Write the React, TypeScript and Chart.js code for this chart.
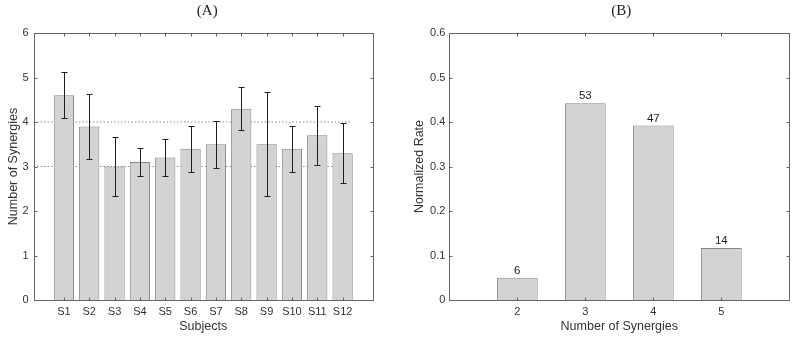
import React, { useEffect, useRef } from 'react';
import { Chart, registerables } from 'chart.js';

Chart.register(...registerables);

// ---------- data ----------
const subjects = ['S1', 'S2', 'S3', 'S4', 'S5', 'S6', 'S7', 'S8', 'S9', 'S10', 'S11', 'S12'];
const meanSynergies = [4.6, 3.9, 3.0, 3.1, 3.2, 3.4, 3.5, 4.3, 3.5, 3.4, 3.7, 3.3];
const stdSynergies = [0.52, 0.74, 0.66, 0.31, 0.42, 0.52, 0.53, 0.48, 1.17, 0.52, 0.67, 0.67];
const referenceLevels = [3, 4];
const referenceSpan = [-0.2, 12.35];
const subjectAxisLimits = [-0.2, 13.2];
const synergyAxisA = [0, 6];

const synergyCounts = [2, 3, 4, 5];
const normalizedRate = [0.05, 0.442, 0.392, 0.117];
const occurrences = [6, 53, 47, 14];
const countAxisLimits = [1, 6];
const rateAxisB = [0, 0.6];

// ---------- styles ----------
const FONT = '"Liberation Sans", Arial, Helvetica, sans-serif';
const SERIF = '"Liberation Serif", "Times New Roman", serif';
const TEXT = '#333333';
const AXIS = '#666666';
const BAR_FILL = '#d3d3d3';
const BAR_EDGE = '#858585';

const crisp = (v: number) => Math.round(v) + 0.5;

const boxPlugin = {
  id: 'boxTicks',
  afterDraw(chart: any, _args: any, opts: any) {
    const { ctx, chartArea: a, scales } = chart;
    ctx.save();
    ctx.strokeStyle = AXIS;
    ctx.lineWidth = 1;
    const L = crisp(a.left), R = crisp(a.right), T = crisp(a.top), B = crisp(a.bottom);
    ctx.strokeRect(L, T, R - L, B - T);
    const len = 3;
    ctx.beginPath();
    scales.x.ticks.forEach((t: any) => {
      const px = crisp(scales.x.getPixelForValue(t.value));
      ctx.moveTo(px, B); ctx.lineTo(px, B - len);
      ctx.moveTo(px, T); ctx.lineTo(px, T + len);
    });
    scales.y.ticks.forEach((t: any) => {
      const py = crisp(scales.y.getPixelForValue(t.value));
      ctx.moveTo(L, py); ctx.lineTo(L + len, py);
      ctx.moveTo(R, py); ctx.lineTo(R - len, py);
    });
    ctx.stroke();
    if (opts && opts.text) {
      ctx.fillStyle = '#222222';
      ctx.font = '15px ' + SERIF;
      ctx.textAlign = 'center';
      ctx.textBaseline = 'middle';
      ctx.fillText(opts.text, (a.left + a.right) / 2 + (opts.dx || 0), opts.y);
    }
    ctx.restore();
  },
};

const errorBarPlugin = {
  id: 'errorBars',
  afterDatasetsDraw(chart: any) {
    const { ctx, scales } = chart;
    const meta = chart.getDatasetMeta(0);
    ctx.save();
    ctx.strokeStyle = '#1e1e1e';
    ctx.lineWidth = 1;
    ctx.beginPath();
    meta.data.forEach((el: any, i: number) => {
      const px = crisp(el.x);
      const top = crisp(scales.y.getPixelForValue(meanSynergies[i] + stdSynergies[i]));
      const bot = crisp(scales.y.getPixelForValue(meanSynergies[i] - stdSynergies[i]));
      ctx.moveTo(px, top); ctx.lineTo(px, bot);
      ctx.moveTo(px - 3, top); ctx.lineTo(px + 3, top);
      ctx.moveTo(px - 3, bot); ctx.lineTo(px + 3, bot);
    });
    ctx.stroke();
    ctx.restore();
  },
};

const barLabelPlugin = {
  id: 'barLabels',
  afterDatasetsDraw(chart: any) {
    const { ctx } = chart;
    const meta = chart.getDatasetMeta(0);
    ctx.save();
    ctx.fillStyle = '#222222';
    ctx.font = '11.5px ' + FONT;
    ctx.textAlign = 'center';
    ctx.textBaseline = 'alphabetic';
    meta.data.forEach((el: any, i: number) => {
      ctx.fillText(String(occurrences[i]), el.x, el.y - 4);
    });
    ctx.restore();
  },
};

const tickFont = { family: FONT, size: 11 };
const titleFont = { family: FONT, size: 12.5 };

function makeConfigA(): any {
  return {
    type: 'bar',
    data: {
      datasets: [
        {
          type: 'bar',
          data: meanSynergies.map((v, i) => ({ x: i + 1, y: v })),
          backgroundColor: BAR_FILL,
          borderColor: BAR_EDGE,
          borderWidth: 1,
          categoryPercentage: 1,
          barPercentage: 0.8,
          order: 1,
        },
        ...referenceLevels.map((lv) => ({
          type: 'line',
          data: referenceSpan.map((x) => ({ x, y: lv })),
          borderColor: '#8c8c8c',
          borderWidth: 1,
          borderDash: [1.5, 2],
          pointRadius: 0,
          order: 2,
        })),
      ],
    },
    options: {
      responsive: false,
      maintainAspectRatio: false,
      animation: false,
      layout: { padding: { top: 33, right: 27, bottom: 0, left: 0 } },
      plugins: {
        legend: { display: false },
        tooltip: { enabled: false },
        boxTicks: { text: '(A)', dx: 4, y: 11 },
      },
      scales: {
        x: {
          type: 'linear',
          min: subjectAxisLimits[0],
          max: subjectAxisLimits[1],
          offset: false,
          grid: { display: false, drawTicks: false, offset: false },
          border: { display: false },
          afterBuildTicks: (scale: any) => {
            scale.ticks = subjects.map((_, i) => ({ value: i + 1 }));
          },
          afterFit: (scale: any) => { scale.height = 39; },
          ticks: {
            autoSkip: false,
            maxRotation: 0,
            padding: 5,
            color: TEXT,
            font: tickFont,
            callback: (v: number) => subjects[Math.round(v) - 1] ?? '',
          },
          title: { display: true, text: 'Subjects', color: TEXT, font: titleFont, padding: { top: 0, bottom: 5 } },
        },
        y: {
          min: synergyAxisA[0],
          max: synergyAxisA[1],
          grid: { display: false, drawTicks: false },
          border: { display: false },
          afterFit: (scale: any) => { scale.width = 33.5; },
          ticks: { stepSize: 1, padding: 5, color: TEXT, font: tickFont },
          title: { display: true, text: 'Number of Synergies', color: TEXT, font: titleFont, padding: { top: 6, bottom: 0 } },
        },
      },
    },
    plugins: [errorBarPlugin, boxPlugin],
  };
}

function makeConfigB(): any {
  return {
    type: 'bar',
    data: {
      datasets: [
        {
          data: normalizedRate.map((v, i) => ({ x: synergyCounts[i], y: v })),
          backgroundColor: BAR_FILL,
          borderColor: BAR_EDGE,
          borderWidth: 1,
          categoryPercentage: 1,
          barPercentage: 0.6,
        },
      ],
    },
    options: {
      responsive: false,
      maintainAspectRatio: false,
      animation: false,
      layout: { padding: { top: 33, right: 7.7, bottom: 0, left: 0 } },
      plugins: {
        legend: { display: false },
        tooltip: { enabled: false },
        boxTicks: { text: '(B)', dx: 2, y: 11 },
      },
      scales: {
        x: {
          type: 'linear',
          min: countAxisLimits[0],
          max: countAxisLimits[1],
          offset: false,
          grid: { display: false, drawTicks: false, offset: false },
          border: { display: false },
          afterBuildTicks: (scale: any) => {
            scale.ticks = synergyCounts.map((c) => ({ value: c }));
          },
          afterFit: (scale: any) => { scale.height = 39; },
          ticks: { autoSkip: false, maxRotation: 0, padding: 5, color: TEXT, font: tickFont },
          title: { display: true, text: 'Number of Synergies', color: TEXT, font: titleFont, padding: { top: 0, bottom: 5 } },
        },
        y: {
          min: rateAxisB[0],
          max: rateAxisB[1],
          grid: { display: false, drawTicks: false },
          border: { display: false },
          afterFit: (scale: any) => { scale.width = 49.3; },
          ticks: {
            stepSize: 0.1,
            padding: 4,
            color: TEXT,
            font: tickFont,
            callback: (v: number) => String(Number(v.toFixed(1))),
          },
          title: { display: true, text: 'Normalized Rate', color: TEXT, font: titleFont, padding: { top: 12.5, bottom: 0 } },
        },
      },
    },
    plugins: [barLabelPlugin, boxPlugin],
  };
}

export default function App() {
  const refA = useRef<HTMLCanvasElement | null>(null);
  const refB = useRef<HTMLCanvasElement | null>(null);

  useEffect(() => {
    const a = new Chart(refA.current as HTMLCanvasElement, makeConfigA());
    const b = new Chart(refB.current as HTMLCanvasElement, makeConfigB());
    return () => {
      a.destroy();
      b.destroy();
    };
  }, []);

  return (
    <div style={{ position: 'absolute', left: 0, top: 0, width: 797, height: 339, background: '#ffffff' }}>
      <canvas ref={refA} width={400} height={339} style={{ position: 'absolute', left: 0, top: 0, display: 'block' }} />
      <canvas ref={refB} width={397} height={339} style={{ position: 'absolute', left: 400, top: 0, display: 'block' }} />
    </div>
  );
}
